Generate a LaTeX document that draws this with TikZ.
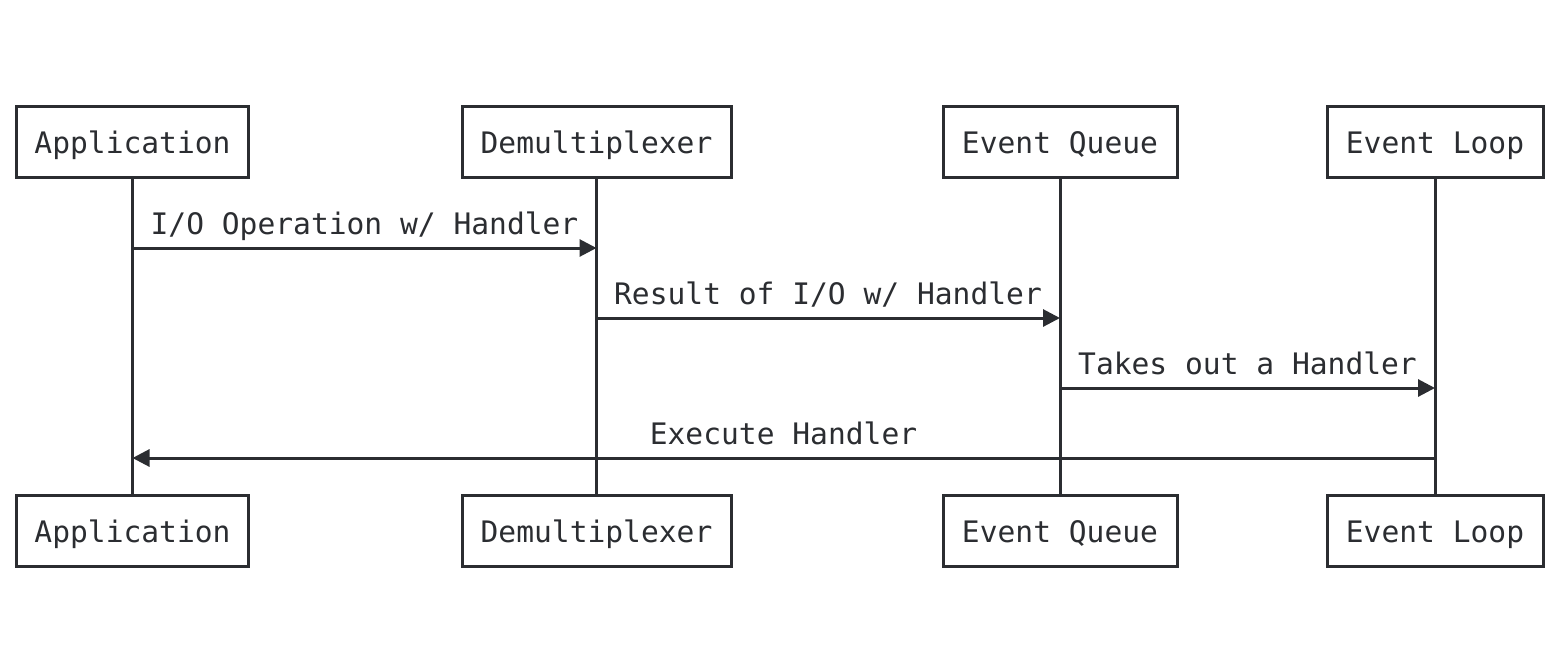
\documentclass[tikz,border=0pt]{standalone}
\usepackage{fontspec}
\setmonofont{DejaVu Sans Mono}
\usetikzlibrary{arrows.meta}
\definecolor{ink}{HTML}{2B2D31}
\begin{document}
\begin{tikzpicture}[x=0.5pt,y=-0.5pt,
  txt/.style={font=\ttfamily\fontsize{14.8}{17}\selectfont,text=ink},
  actor/.style={txt,draw=ink,line width=1.5pt,fill=white,inner sep=0pt,
    minimum height=35.5pt,text height=11pt,text depth=0pt},
  life/.style={draw=ink,line width=1.5pt},
  msg/.style={draw=ink,line width=1.5pt,-{Triangle[length=8.5pt,width=8.5pt]}},
  lbl/.style={txt,anchor=base,inner sep=0pt}]
\useasboundingbox (0,0) rectangle (1568,654);
% top actors
\node[actor,minimum width=116pt] (a1) at (132.5,142) {Application};
\node[actor,minimum width=134.5pt] (d1) at (596.5,142) {Demultiplexer};
\node[actor,minimum width=117pt] (q1) at (1060,142) {Event Queue};
\node[actor,minimum width=108pt] (l1) at (1435,142) {Event Loop};
% bottom actors
\node[actor,minimum width=116pt] (a2) at (132.5,531) {Application};
\node[actor,minimum width=134.5pt] (d2) at (596.5,531) {Demultiplexer};
\node[actor,minimum width=117pt] (q2) at (1060,531) {Event Queue};
\node[actor,minimum width=108pt] (l2) at (1435,531) {Event Loop};
% lifelines
\draw[life] (a1.south) -- (a2.north);
\draw[life] (d1.south) -- (d2.north);
\draw[life] (q1.south) -- (q2.north);
\draw[life] (l1.south) -- (l2.north);
% messages
\draw[msg] (a1.south |- 0,248) -- (d1.south |- 0,248);
\node[lbl] (m1) at (364.5,234) {I/O Operation w/ Handler};
\draw[msg] (d1.south |- 0,318) -- (q1.south |- 0,318);
\node[lbl] (m2) at (828,304) {Result of I/O w/ Handler};
\draw[msg] (q1.south |- 0,388) -- (l1.south |- 0,388);
\node[lbl] (m3) at (1247.5,374) {Takes out a Handler};
\draw[msg] (l1.south |- 0,458) -- (a1.south |- 0,458);
\node[lbl] (m4) at (783.5,444) {Execute Handler};
\end{tikzpicture}
\end{document}
